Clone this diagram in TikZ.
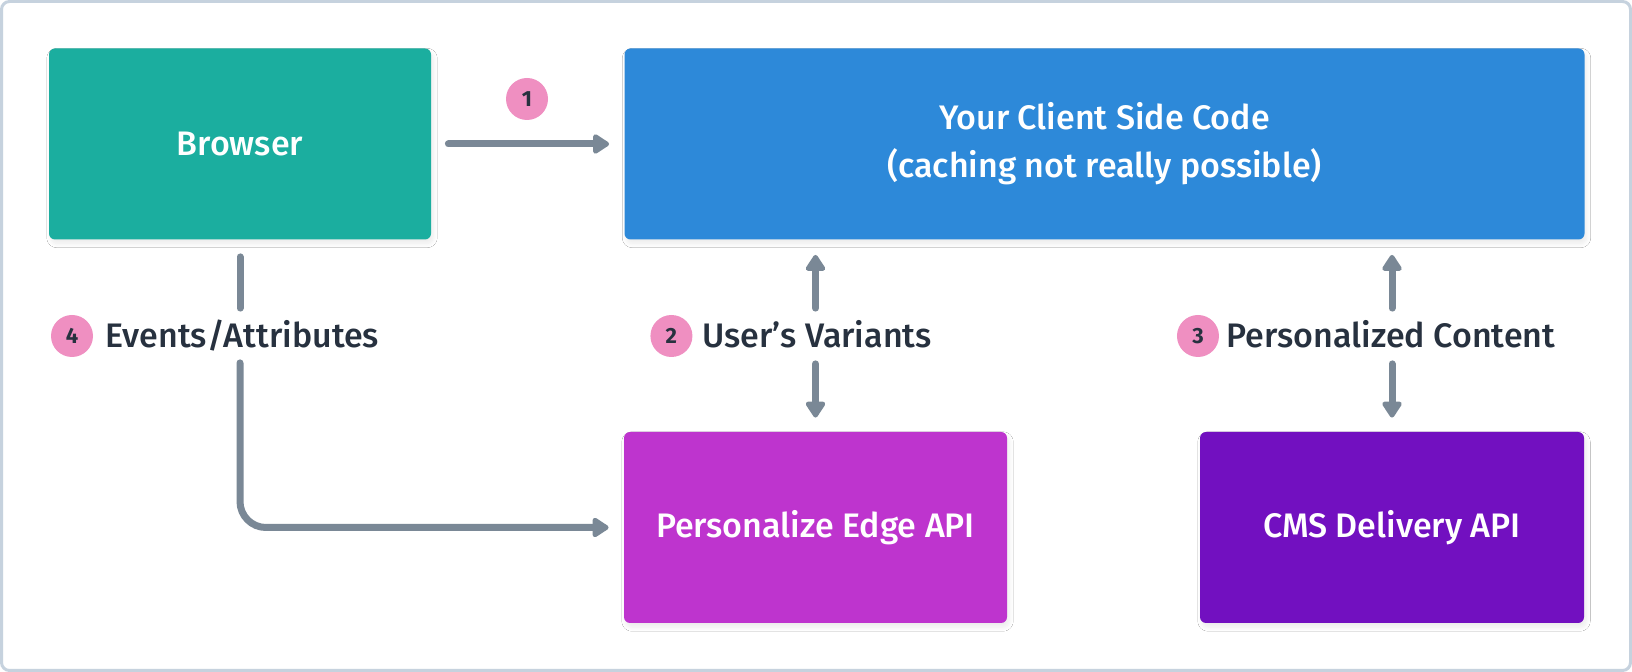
\documentclass[tikz,border=0pt]{standalone}
\usepackage{fontspec}
\setmainfont{Fira Sans}
\newfontfamily\medfont{Fira Sans Medium}
\usepackage{tikz}
\definecolor{browserTeal}{RGB}{27, 174, 159}
\definecolor{clientBlue}{RGB}{45, 137, 217}
\definecolor{edgeMagenta}{RGB}{190, 52, 206}
\definecolor{cmsPurple}{RGB}{114, 16, 192}
\definecolor{badgePink}{RGB}{239, 143, 193}
\definecolor{inkDark}{RGB}{39, 49, 63}
\definecolor{flowGray}{RGB}{122, 136, 150}
\definecolor{frameGray}{RGB}{198, 210, 222}
\usetikzlibrary{arrows.meta, positioning, shadows.blur}

\tikzset{
    apibox/.style={
        rectangle,
        rounded corners=3pt,
        draw=none,
        text=white,
        minimum width=#1,
        minimum height=95.5pt,
        align=center,
        font=\medfont\fontsize{17}{24}\selectfont,
        blur shadow={shadow xshift=1pt, shadow yshift=-2pt, shadow opacity=8, shadow blur steps=10}
    },
    badge/.style={
        circle,
        fill=badgePink,
        minimum size=21pt,
        inner sep=0pt,
        text=inkDark,
        font=\fontsize{11}{11}\selectfont\bfseries
    },
    steplabel/.style={
        inner sep=0pt,
        text height=11.5pt,
        text depth=0pt,
        text=inkDark,
        font=\medfont\fontsize{17}{20}\selectfont
    },
    flow/.style={
        draw=flowGray,
        line width=3.5pt,
        line cap=round,
        -{Triangle[length=9pt, width=11pt, round]}
    }
}

\begin{document}
\begin{tikzpicture}[x=0.5pt, y=-0.5pt]
    \useasboundingbox (0,0) rectangle (1632,672);
    \draw[frameGray, fill=white, line width=1.5pt, rounded corners=4pt] (1.5,1.5) rectangle (1630.5,670.5);

    % boxes
    \node[apibox=191pt, fill=browserTeal] (browser) at (240,144) {Browser};
    \node[apibox=480pt, fill=clientBlue] (client) at (1104.5,144) {Your Client Side Code\\(caching not really possible)};
    \node[apibox=191.5pt, fill=edgeMagenta] (edge) at (815.5,527.5) {Personalize Edge API};
    \node[apibox=192pt, fill=cmsPurple] (cms) at (1392,527.5) {CMS Delivery API};

    % step labels
    \node[badge] (b1) at (527,99) {1};
    \node[steplabel, anchor=west] (lbl4) at (105,336) {Events/Attributes};
    \node[badge] (b4) at (72,336) {4};
    \node[steplabel] (lbl2) at (817,336) {User’s Variants};
    \node[badge, left=4.5pt of lbl2] (b2) {2};
    \node[steplabel] (lbl3) at (1391,336) {Personalized Content};
    \node[badge, left=3.5pt of lbl3] (b3) {3};

    % connectors
    \draw[flow, shorten <=8.5pt, shorten >=7.5pt] (browser.east) -- (client.west);
    \draw[flow, shorten <=8pt, shorten >=7.5pt] (edge.north |- lbl2.north) -- (edge.north |- client.south);
    \draw[flow, shorten <=8pt, shorten >=7pt] (edge.north |- lbl2.south) -- (edge.north);
    \draw[flow, shorten <=8pt, shorten >=7.5pt] (cms.north |- lbl3.north) -- (cms.north |- client.south);
    \draw[flow, shorten <=8pt, shorten >=7pt] (cms.north |- lbl3.south) -- (cms.north);
    \draw[flow, -, shorten <=8.5pt, shorten >=8pt] (browser.south) -- (browser.south |- lbl4.north);
    \draw[flow, rounded corners=13pt, shorten <=7.5pt, shorten >=7.5pt] (browser.south |- lbl4.south) |- (edge.west);
\end{tikzpicture}
\end{document}
